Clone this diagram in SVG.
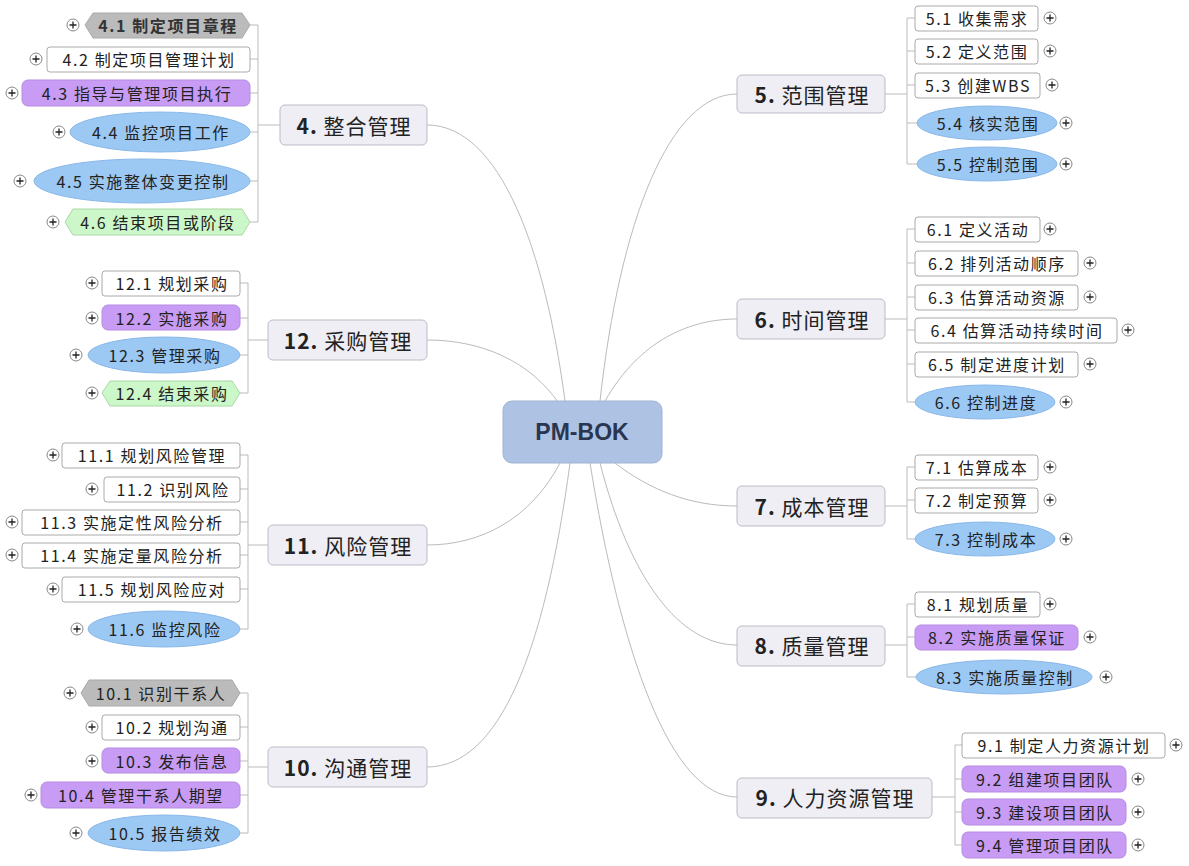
<svg xmlns="http://www.w3.org/2000/svg" width="1189" height="866" viewBox="0 0 1189 866">
<style>
text{font-family:"Noto Sans CJK SC","Liberation Sans",sans-serif;fill:#222;dominant-baseline:central;text-anchor:middle}
.c{font-size:16px;letter-spacing:1.6px}
.t{font-size:21px;letter-spacing:1px}
.w{fill:#fff;stroke:#aaa}
.p{fill:#c89cf4;stroke:#b58be0}
.b{fill:#9cc8f4;stroke:#8ab8e8}
.g{fill:#bbb;stroke:#aaa}
.n{fill:#ccf7c8;stroke:#aad8a6}
.tp{fill:#eeeef4;stroke:#bbbbc8}
.ln{fill:none;stroke:#bbb;stroke-width:1}
.pl circle{fill:#fff;stroke:#888}
.pl path{stroke:#222;stroke-width:1.3}
</style>
<defs>
<g id="plus" class="pl"><circle r="6"/><path d="M-3.5 0H3.5M0 -3.5V3.5"/></g>
</defs>
<rect width="1189" height="866" fill="#fff"/>
<g id="connectors">
<path class="ln" d="M565 401C545 250 500 125 427 125"/>
<path class="ln" d="M560 405C530 360 480 340 427 340"/>
<path class="ln" d="M560 463C530 520 480 545 427 545"/>
<path class="ln" d="M570 463C545 650 500 767 427 767"/>
<path class="ln" d="M600 401C620 220 670 94 737 94"/>
<path class="ln" d="M605 401C640 340 690 319 737 319"/>
<path class="ln" d="M615 463C650 490 690 506 737 506"/>
<path class="ln" d="M600 463C630 580 680 645 737 645"/>
<path class="ln" d="M590 463C620 650 670 797 737 797"/>
<path class="ln" d="M280 125H258M258 25V222M250 25H258M250 59H258M250 93H258M250 132H258M250 181H258M250 222H258"/>
<path class="ln" d="M268 340H248M248 283V393M240 283H248M240 318H248M240 355H248M240 393H248"/>
<path class="ln" d="M268 545H248M248 455V629M240 455H248M240 489H248M240 522H248M240 555H248M240 589H248M240 629H248"/>
<path class="ln" d="M268 767H248M248 693V833M240 693H248M240 727H248M240 761H248M240 795H248M240 833H248"/>
<path class="ln" d="M885 94H907M907 18V164M907 18H915M907 51H915M907 85H915M907 123H917M907 164H917"/>
<path class="ln" d="M885 319H907M907 229V402M907 229H915M907 263H915M907 297H915M907 330H915M907 364H915M907 402H915"/>
<path class="ln" d="M885 506H907M907 467V539M907 467H915M907 500H915M907 539H915"/>
<path class="ln" d="M885 645H907M907 604V677M907 604H915M907 637H915M907 677H916"/>
<path class="ln" d="M932 797H955M955 745V845M955 745H962M955 779H962M955 812H962M955 845H962"/>
</g>
<g id="root"><rect x="503" y="401" width="159" height="62" rx="9" fill="#aec3e4" stroke="#9fb3d3"/><text x="582" y="432" style="font-size:23px;font-weight:bold;fill:#2a3550;font-family:'Liberation Sans',sans-serif">PM-BOK</text></g>

<g id="t4"><rect class="tp" x="280" y="105" width="147" height="40" rx="5"/><text class="t" x="354" y="125"><tspan font-weight="bold">4.</tspan> 整合管理</text></g>
<g id="t12"><rect class="tp" x="268" y="320" width="159" height="40" rx="5"/><text class="t" x="348" y="340"><tspan font-weight="bold">12.</tspan> 采购管理</text></g>
<g id="t11"><rect class="tp" x="268" y="525" width="159" height="40" rx="5"/><text class="t" x="348" y="545"><tspan font-weight="bold">11.</tspan> 风险管理</text></g>
<g id="t10"><rect class="tp" x="268" y="747" width="159" height="40" rx="5"/><text class="t" x="348" y="767"><tspan font-weight="bold">10.</tspan> 沟通管理</text></g>
<g id="t5"><rect class="tp" x="737" y="75" width="148" height="38" rx="5"/><text class="t" x="812" y="94"><tspan font-weight="bold">5.</tspan> 范围管理</text></g>
<g id="t6"><rect class="tp" x="737" y="299" width="148" height="40" rx="5"/><text class="t" x="812" y="319"><tspan font-weight="bold">6.</tspan> 时间管理</text></g>
<g id="t7"><rect class="tp" x="737" y="486" width="148" height="40" rx="5"/><text class="t" x="812" y="506"><tspan font-weight="bold">7.</tspan> 成本管理</text></g>
<g id="t8"><rect class="tp" x="737" y="626" width="148" height="40" rx="5"/><text class="t" x="812" y="645"><tspan font-weight="bold">8.</tspan> 质量管理</text></g>
<g id="t9"><rect class="tp" x="737" y="778" width="195" height="40" rx="5"/><text class="t" x="835" y="797"><tspan font-weight="bold">9.</tspan> 人力资源管理</text></g>

<g id="n4_1"><polygon class="g" points="93,13 242,13 250,25 242,38 93,38 85,25"/><text class="c" x="168" y="25" font-weight="bold" style="fill:#333">4.1 制定项目章程</text><use href="#plus" x="73" y="25"/></g>
<g id="n4_2"><rect class="w" x="47" y="47" width="203" height="25" rx="3"/><text class="c" x="149" y="59">4.2 制定项目管理计划</text><use href="#plus" x="36" y="59"/></g>
<g id="n4_3"><rect class="p" x="22" y="80" width="228" height="26" rx="6"/><text class="c" x="137" y="93">4.3 指导与管理项目执行</text><use href="#plus" x="12" y="93"/></g>
<g id="n4_4"><ellipse class="b" cx="160" cy="132" rx="90" ry="20"/><text class="c" x="161" y="132">4.4 监控项目工作</text><use href="#plus" x="59" y="132"/></g>
<g id="n4_5"><ellipse class="b" cx="142" cy="181" rx="108" ry="22"/><text class="c" x="143" y="181">4.5 实施整体变更控制</text><use href="#plus" x="20" y="181"/></g>
<g id="n4_6"><polygon class="n" points="73,209 242,209 250,222 242,235 73,235 65,222"/><text class="c" x="158" y="222">4.6 结束项目或阶段</text><use href="#plus" x="53" y="222"/></g>

<g id="n12_1"><rect class="w" x="102" y="271" width="138" height="25" rx="3"/><text class="c" x="172" y="283">12.1 规划采购</text><use href="#plus" x="92" y="283"/></g>
<g id="n12_2"><rect class="p" x="102" y="305" width="138" height="25" rx="6"/><text class="c" x="172" y="318">12.2 实施采购</text><use href="#plus" x="92" y="318"/></g>
<g id="n12_3"><ellipse class="b" cx="164" cy="355" rx="76" ry="18"/><text class="c" x="165" y="355">12.3 管理采购</text><use href="#plus" x="76" y="355"/></g>
<g id="n12_4"><polygon class="n" points="110,381 232,381 240,393 232,406 110,406 102,393"/><text class="c" x="172" y="393">12.4 结束采购</text><use href="#plus" x="92" y="393"/></g>

<g id="n11_1"><rect class="w" x="62" y="443" width="178" height="25" rx="3"/><text class="c" x="152" y="455">11.1 规划风险管理</text><use href="#plus" x="53" y="455"/></g>
<g id="n11_2"><rect class="w" x="104" y="477" width="136" height="25" rx="3"/><text class="c" x="173" y="489">11.2 识别风险</text><use href="#plus" x="92" y="489"/></g>
<g id="n11_3"><rect class="w" x="22" y="510" width="218" height="25" rx="3"/><text class="c" x="132" y="522">11.3 实施定性风险分析</text><use href="#plus" x="12" y="522"/></g>
<g id="n11_4"><rect class="w" x="22" y="543" width="218" height="25" rx="3"/><text class="c" x="132" y="555">11.4 实施定量风险分析</text><use href="#plus" x="12" y="555"/></g>
<g id="n11_5"><rect class="w" x="62" y="577" width="178" height="25" rx="3"/><text class="c" x="152" y="589">11.5 规划风险应对</text><use href="#plus" x="53" y="589"/></g>
<g id="n11_6"><ellipse class="b" cx="164" cy="629" rx="76" ry="18"/><text class="c" x="165" y="629">11.6 监控风险</text><use href="#plus" x="77" y="629"/></g>

<g id="n10_1"><polygon class="g" points="89,680 232,680 240,693 232,706 89,706 81,693"/><text class="c" x="161" y="693">10.1 识别干系人</text><use href="#plus" x="70" y="693"/></g>
<g id="n10_2"><rect class="w" x="102" y="715" width="138" height="25" rx="3"/><text class="c" x="172" y="727">10.2 规划沟通</text><use href="#plus" x="92" y="727"/></g>
<g id="n10_3"><rect class="p" x="102" y="748" width="138" height="25" rx="6"/><text class="c" x="172" y="761">10.3 发布信息</text><use href="#plus" x="92" y="761"/></g>
<g id="n10_4"><rect class="p" x="41" y="782" width="199" height="26" rx="6"/><text class="c" x="141" y="795">10.4 管理干系人期望</text><use href="#plus" x="31" y="795"/></g>
<g id="n10_5"><ellipse class="b" cx="164" cy="833" rx="76" ry="18"/><text class="c" x="165" y="833">10.5 报告绩效</text><use href="#plus" x="76" y="833"/></g>

<g id="n5_1"><rect class="w" x="915" y="6" width="123" height="25" rx="3"/><text class="c" x="977" y="18">5.1 收集需求</text><use href="#plus" x="1050" y="18"/></g>
<g id="n5_2"><rect class="w" x="915" y="39" width="123" height="25" rx="3"/><text class="c" x="977" y="51">5.2 定义范围</text><use href="#plus" x="1050" y="51"/></g>
<g id="n5_3"><rect class="w" x="915" y="73" width="125" height="25" rx="3"/><text class="c" x="978" y="85">5.3 创建WBS</text><use href="#plus" x="1052" y="85"/></g>
<g id="n5_4"><ellipse class="b" cx="987" cy="123" rx="70" ry="17"/><text class="c" x="988" y="123">5.4 核实范围</text><use href="#plus" x="1066" y="123"/></g>
<g id="n5_5"><ellipse class="b" cx="987" cy="164" rx="70" ry="17"/><text class="c" x="988" y="164">5.5 控制范围</text><use href="#plus" x="1066" y="164"/></g>

<g id="n6_1"><rect class="w" x="915" y="217" width="125" height="25" rx="3"/><text class="c" x="978" y="229">6.1 定义活动</text><use href="#plus" x="1050" y="229"/></g>
<g id="n6_2"><rect class="w" x="915" y="251" width="163" height="25" rx="3"/><text class="c" x="997" y="263">6.2 排列活动顺序</text><use href="#plus" x="1090" y="263"/></g>
<g id="n6_3"><rect class="w" x="915" y="285" width="163" height="25" rx="3"/><text class="c" x="997" y="297">6.3 估算活动资源</text><use href="#plus" x="1090" y="297"/></g>
<g id="n6_4"><rect class="w" x="915" y="318" width="202" height="25" rx="3"/><text class="c" x="1017" y="330">6.4 估算活动持续时间</text><use href="#plus" x="1128" y="330"/></g>
<g id="n6_5"><rect class="w" x="915" y="352" width="163" height="25" rx="3"/><text class="c" x="997" y="364">6.5 制定进度计划</text><use href="#plus" x="1090" y="364"/></g>
<g id="n6_6"><ellipse class="b" cx="985" cy="402" rx="70" ry="17"/><text class="c" x="986" y="402">6.6 控制进度</text><use href="#plus" x="1066" y="402"/></g>

<g id="n7_1"><rect class="w" x="915" y="455" width="123" height="25" rx="3"/><text class="c" x="977" y="467">7.1 估算成本</text><use href="#plus" x="1050" y="467"/></g>
<g id="n7_2"><rect class="w" x="915" y="488" width="123" height="25" rx="3"/><text class="c" x="977" y="500">7.2 制定预算</text><use href="#plus" x="1050" y="500"/></g>
<g id="n7_3"><ellipse class="b" cx="985" cy="539" rx="70" ry="17"/><text class="c" x="986" y="539">7.3 控制成本</text><use href="#plus" x="1066" y="539"/></g>

<g id="n8_1"><rect class="w" x="915" y="592" width="125" height="25" rx="3"/><text class="c" x="978" y="604">8.1 规划质量</text><use href="#plus" x="1050" y="604"/></g>
<g id="n8_2"><rect class="p" x="915" y="625" width="163" height="25" rx="6"/><text class="c" x="997" y="637">8.2 实施质量保证</text><use href="#plus" x="1090" y="637"/></g>
<g id="n8_3"><ellipse class="b" cx="1004" cy="677" rx="88" ry="17"/><text class="c" x="1005" y="677">8.3 实施质量控制</text><use href="#plus" x="1106" y="677"/></g>

<g id="n9_1"><rect class="w" x="962" y="733" width="203" height="25" rx="3"/><text class="c" x="1064" y="745">9.1 制定人力资源计划</text><use href="#plus" x="1176" y="745"/></g>
<g id="n9_2"><rect class="p" x="962" y="766" width="164" height="26" rx="6"/><text class="c" x="1045" y="779">9.2 组建项目团队</text><use href="#plus" x="1138" y="779"/></g>
<g id="n9_3"><rect class="p" x="962" y="799" width="164" height="26" rx="6"/><text class="c" x="1045" y="812">9.3 建设项目团队</text><use href="#plus" x="1138" y="812"/></g>
<g id="n9_4"><rect class="p" x="962" y="832" width="164" height="26" rx="6"/><text class="c" x="1045" y="845">9.4 管理项目团队</text><use href="#plus" x="1138" y="845"/></g>
</svg>
